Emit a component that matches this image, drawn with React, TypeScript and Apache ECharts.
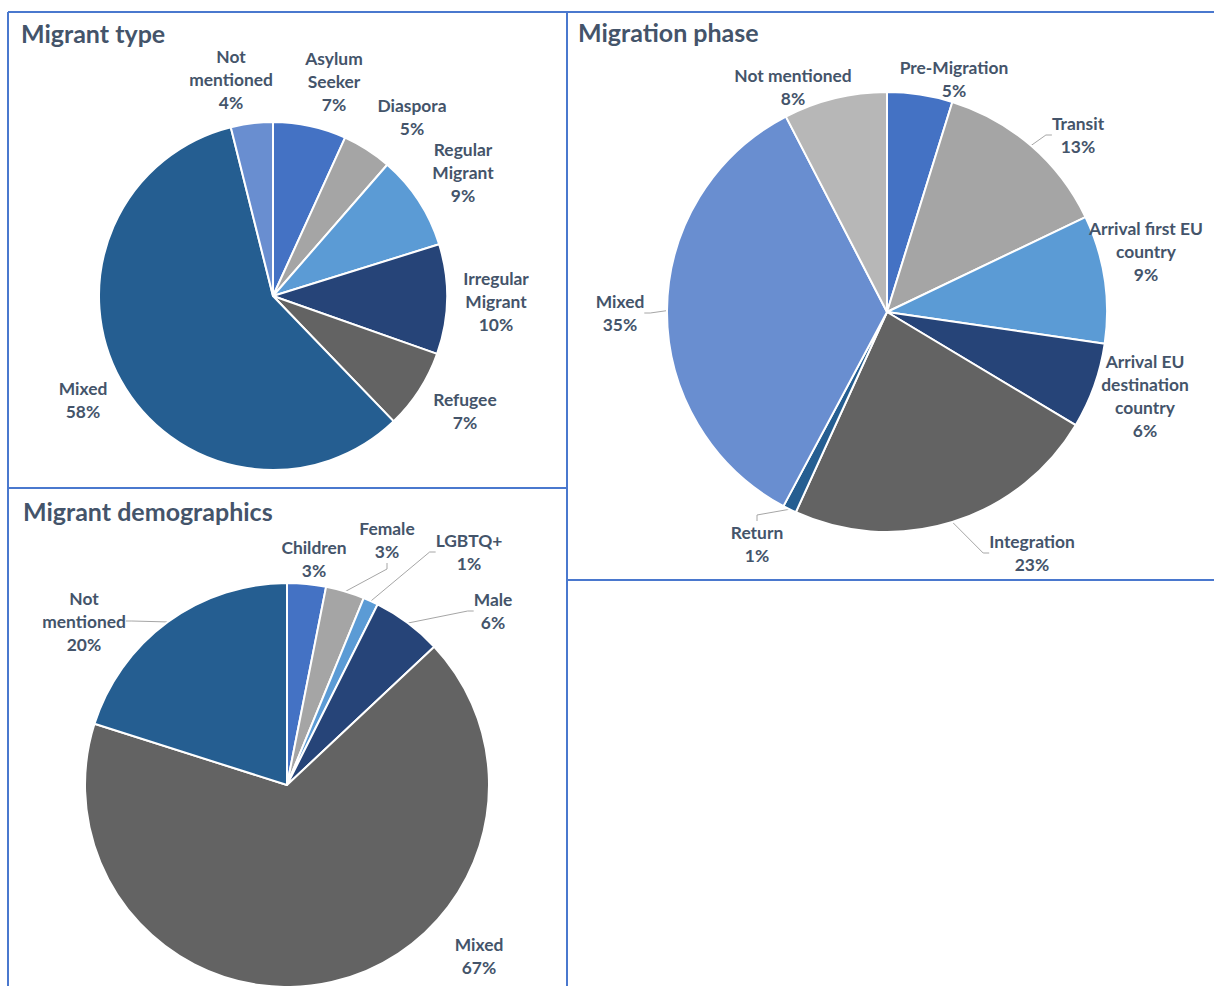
import React, { useEffect, useRef } from "react";
import * as echarts from "echarts";

// ---------- Data ----------
const typeCategories = ["Asylum Seeker", "Diaspora", "Regular Migrant", "Irregular Migrant", "Refugee", "Mixed", "Not mentioned"];
const typeValues = [6.8, 4.6, 8.8, 10.2, 7.4, 58.3, 3.9];
const typeLabelText = ["Asylum\nSeeker", "Diaspora", "Regular\nMigrant", "Irregular\nMigrant", "Refugee", "Mixed", "Not\nmentioned"];

const phaseCategories = ["Pre-Migration", "Transit", "Arrival first EU country", "Arrival EU destination country", "Integration", "Return", "Mixed", "Not mentioned"];
const phaseValues = [4.8, 13.1, 9.4, 6.3, 23.2, 1.0, 34.6, 7.6];
const phaseLabelText = ["Pre-Migration", "Transit", "Arrival first EU\ncountry", "Arrival EU\ndestination\ncountry", "Integration", "Return", "Mixed", "Not mentioned"];

const demoCategories = ["Children", "Female", "LGBTQ+", "Male", "Mixed", "Not mentioned"];
const demoValues = [3.1, 3.1, 1.2, 5.6, 66.9, 20.1];
const demoLabelText = ["Children", "Female", "LGBTQ+", "Male", "Mixed", "Not\nmentioned"];

// ---------- Styles / layout ----------
const palette = ["#4472C4", "#A5A5A5", "#5B9BD5", "#264478", "#636363", "#255E91", "#698ED0", "#B7B7B7"];
const textColor = "#44546A";
const borderColor = "#4A78CE";
const fontFamily = "Lato, 'Open Sans', sans-serif";

// label block centres (pixels) for each slice
const typeLabelPos = [[334, 81], [412, 117], [463, 172], [496, 301], [465, 411], [83, 400], [231, 79]];
const phaseLabelPos = [[954, 79], [1078, 135], [1146, 251], [1145, 396], [1032, 553], [757, 544], [620, 313], [793, 87]];
const demoLabelPos = [[314, 559], [387, 540], [469, 552], [493, 611], [479, 956], [84, 621]];

const phaseLeader = [false, true, false, false, true, true, true, false];
const demoLeader = [false, true, true, true, false, true];
const typeLeader = [false, false, false, false, false, false, false];

function buildSeries(
  name: string,
  cats: string[],
  vals: number[],
  texts: string[],
  pos: number[][],
  leaders: boolean[],
  center: number[],
  radius: number
) {
  return {
    type: "pie",
    name,
    center,
    radius,
    startAngle: 90,
    clockwise: true,
    avoidLabelOverlap: false,
    silent: true,
    itemStyle: { borderColor: "#ffffff", borderWidth: 2 },
    label: {
      show: true,
      position: "outside",
      color: textColor,
      fontFamily,
      fontWeight: "bold",
      fontSize: 17.4,
      lineHeight: 23,
      align: "center",
    },
    labelLine: {
      show: true,
      length: 8,
      length2: 6,
      lineStyle: { color: "#A6A6A6", width: 1 },
    },
    labelLayout: (params: any) => {
      const p = pos[params.dataIndex];
      return { x: p[0], y: p[1], align: "center", verticalAlign: "middle" };
    },
    data: cats.map((c, i) => ({
      name: c,
      value: vals[i],
      itemStyle: { color: palette[i] },
      label: {
        formatter: () => `${texts[i]}\n${Math.round(vals[i])}%`,
      },
      labelLine: { show: leaders[i] },
    })),
  };
}

export default function App() {
  const ref = useRef<HTMLDivElement>(null);

  useEffect(() => {
    document.body.style.margin = "0";
    document.body.style.overflow = "hidden";
    if (!ref.current) return;
    const chart = echarts.init(ref.current, undefined, { renderer: "svg" });

    const line = (x1: number, y1: number, x2: number, y2: number) => ({
      type: "line",
      shape: { x1, y1, x2, y2 },
      style: { stroke: borderColor, lineWidth: 2 },
      silent: true,
    });

    const titleStyle = {
      color: textColor,
      fontFamily,
      fontWeight: "bold",
      fontSize: 25,
      lineHeight: 26,
    };

    chart.setOption({
      animation: false,
      backgroundColor: "#ffffff",
      title: [
        { text: "Migrant type", left: 21, top: 20, padding: 0, textStyle: titleStyle },
        { text: "Migration phase", left: 578, top: 19, padding: 0, textStyle: titleStyle },
        { text: "Migrant demographics", left: 23, top: 498, padding: 0, textStyle: titleStyle },
      ],
      graphic: [
        line(8, 12, 1214, 12),
        line(8, 12, 8, 986),
        line(567, 12, 567, 986),
        line(8, 488, 567, 488),
        line(567, 580, 1214, 580),
      ],
      series: [
        buildSeries("Migrant type", typeCategories, typeValues, typeLabelText, typeLabelPos, typeLeader, [273, 296], 174),
        buildSeries("Migration phase", phaseCategories, phaseValues, phaseLabelText, phaseLabelPos, phaseLeader, [887, 312], 220),
        buildSeries("Migrant demographics", demoCategories, demoValues, demoLabelText, demoLabelPos, demoLeader, [287, 785], 202),
      ],
    });

    return () => {
      chart.dispose();
    };
  }, []);

  return <div ref={ref} style={{ width: 1214, height: 986 }} />;
}
